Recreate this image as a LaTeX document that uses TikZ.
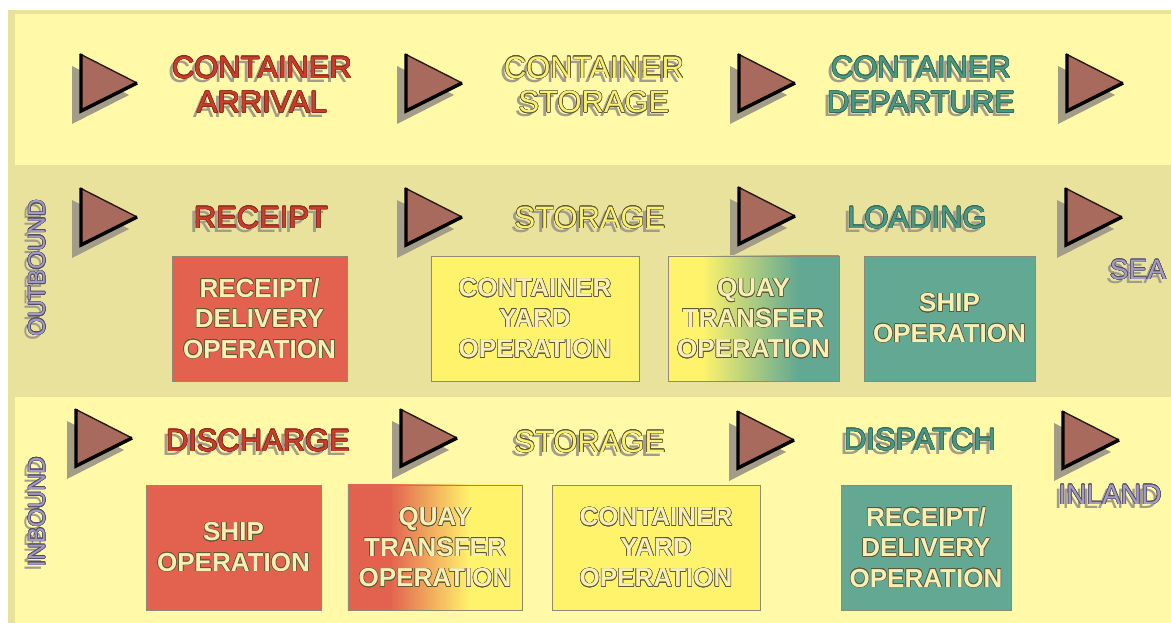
\documentclass[tikz,border=0pt]{standalone}
\usepackage{fontspec}
\setmainfont{Liberation Sans}
\usepackage[copies]{contour}
\contourlength{0.4pt}
\usepackage{tikz}

\definecolor{paleyellow}{HTML}{FFF9A8}
\definecolor{khaki}{HTML}{E8E29C}
\definecolor{opred}{HTML}{E2624F}
\definecolor{opyellow}{HTML}{FFF36C}
\definecolor{opteal}{HTML}{62A892}
\definecolor{titlered}{HTML}{C83E2C}
\definecolor{titleyellow}{HTML}{FAF172}
\definecolor{titleteal}{HTML}{4B9782}
\definecolor{titlepurple}{HTML}{A39BC4}
\definecolor{shadowgray}{HTML}{A29C88}
\definecolor{arrowbrown}{HTML}{A86A5C}
\definecolor{cream}{HTML}{F7EFB4}
\definecolor{inkdark}{HTML}{5E5838}

\pgfdeclarehorizontalshading{quayout}{100bp}{color(0bp)=(opyellow); color(35bp)=(opyellow); color(63bp)=(opteal); color(100bp)=(opteal)}
\pgfdeclarehorizontalshading{quayin}{100bp}{color(0bp)=(opred); color(37bp)=(opred); color(60bp)=(opyellow); color(100bp)=(opyellow)}

\newcommand\ol[1]{\contour{olc}{#1}}
\newcommand\olplain[1]{#1}
\newcommand\stagetext[4]{%
  \node[#3, titleshadow] (#1-sh) at ([shift={(-4,4)}]#2) {#4};
  \node[#3] (#1) at (#2) {#4};}

\tikzset{
  steparrow/.pic={
    \fill[shadowgray] (-8,-17) -- (49,12) -- (-8,41) -- cycle;
    \fill[arrowbrown] (0,-29) -- (57,0) -- (0,29) -- cycle;
    \draw[black!75!arrowbrown, line width=1pt] (0,-29) -- (57,0);
    \draw[black, line width=2.4pt, line join=miter] (57,0) -- (1,28) -- (1,-29);
  }
}

\begin{document}
\begin{tikzpicture}[x=0.025cm, y=-0.025cm,
    stagetitle/.style={font=\fontsize{22}{24.5}\selectfont, align=center, inner sep=0pt},
    redtitle/.style={stagetitle, text=titlered, execute at begin node={\colorlet{olc}{titlered!70!black}}},
    yellowtitle/.style={stagetitle, text=titleyellow, execute at begin node={\colorlet{olc}{inkdark}}},
    tealtitle/.style={stagetitle, text=titleteal, execute at begin node={\colorlet{olc}{titleteal!70!black}}},
    purpletitle/.style={stagetitle, text=titlepurple, execute at begin node={\colorlet{olc}{titlepurple!50!black}}},
    sidetitle/.style={purpletitle, font=\fontsize{17}{18}\selectfont, rotate=90},
    endtitle/.style={purpletitle, font=\fontsize{20}{21}\selectfont},
    titleshadow/.style={text=shadowgray, execute at begin node={\let\ol\olplain}},
    opbox/.style={draw=inkdark!70, line width=0.6pt, minimum height=3.125cm, inner sep=0pt,
      align=center, font=\bfseries\fontsize{18.5}{21.7}\selectfont, text=cream,
      execute at begin node={\colorlet{olc}{inkdark}}}]
  \useasboundingbox (0,0) rectangle (1171,623);
  \fill[white] (0,0) rectangle (1171,623);
  \fill[khaki] (8,10) rectangle (1171,623);
  \fill[paleyellow] (15,14) rectangle (1171,165);
  \fill[paleyellow] (15,397) rectangle (1171,623);

  \pic (a1) at (80,83) {steparrow};
  \pic (a2) at (405,83) {steparrow};
  \pic (a3) at (738,83) {steparrow};
  \pic (a4) at (1066,83) {steparrow};
  \pic (b1) at (80,217) {steparrow};
  \pic (b2) at (405,217) {steparrow};
  \pic (b3) at (738,216) {steparrow};
  \pic (b4) at (1065,217) {steparrow};
  \pic (c1) at (75,438) {steparrow};
  \pic (c2) at (400,438) {steparrow};
  \pic (c3) at (737,440) {steparrow};
  \pic (c4) at (1062,440) {steparrow};

  \stagetext{arrival}{262,85}{redtitle}{\ol{CONTAINER}\\\ol{ARRIVAL}}
  \stagetext{storagetop}{594,85}{yellowtitle}{\ol{CONTAINER}\\\ol{STORAGE}}
  \stagetext{departure}{921,85}{tealtitle}{\ol{CONTAINER}\\\ol{DEPARTURE}}

  \stagetext{receipt}{261,218}{redtitle}{\ol{RECEIPT}}
  \stagetext{storageout}{590,218}{yellowtitle}{\ol{STORAGE}}
  \stagetext{loading}{917,218}{tealtitle}{\ol{LOADING}}
  \stagetext{sea}{1138,270}{endtitle}{\ol{SEA}}
  \stagetext{outbound}{37,268}{sidetitle}{\ol{OUTBOUND}}

  \stagetext{discharge}{258,441}{redtitle}{\ol{DISCHARGE}}
  \stagetext{storagein}{590,442}{yellowtitle}{\ol{STORAGE}}
  \stagetext{dispatch}{920,440}{tealtitle}{\ol{DISPATCH}}
  \stagetext{inland}{1110,495}{endtitle}{\ol{INLAND}}
  \stagetext{inbound}{37,512}{sidetitle}{\ol{INBOUND}}

  \node[opbox, fill=opred, minimum width=4.375cm] (rdout) at (259.5,318.5) {\ol{RECEIPT/}\\\ol{DELIVERY}\\\ol{OPERATION}};
  \node[opbox, fill=opyellow, minimum width=5.2cm] (cyout) at (535,318.5) {\ol{CONTAINER}\\\ol{YARD}\\\ol{OPERATION}};
  \node[opbox, shade, shading=quayout, minimum width=4.275cm] (qtout) at (753.5,318.5) {\ol{QUAY}\\\ol{TRANSFER}\\\ol{OPERATION}};
  \node[opbox, fill=opteal, minimum width=4.275cm] (shipout) at (949.5,318.5) {\ol{SHIP}\\\ol{OPERATION}};

  \node[opbox, fill=opred, minimum width=4.375cm] (shipin) at (233.5,547.5) {\ol{SHIP}\\\ol{OPERATION}};
  \node[opbox, shade, shading=quayin, minimum width=4.35cm] (qtin) at (435,547.5) {\ol{QUAY}\\\ol{TRANSFER}\\\ol{OPERATION}};
  \node[opbox, fill=opyellow, minimum width=5.2cm] (cyin) at (656,547.5) {\ol{CONTAINER}\\\ol{YARD}\\\ol{OPERATION}};
  \node[opbox, fill=opteal, minimum width=4.25cm] (rdin) at (926,547.5) {\ol{RECEIPT/}\\\ol{DELIVERY}\\\ol{OPERATION}};
\end{tikzpicture}
\end{document}
